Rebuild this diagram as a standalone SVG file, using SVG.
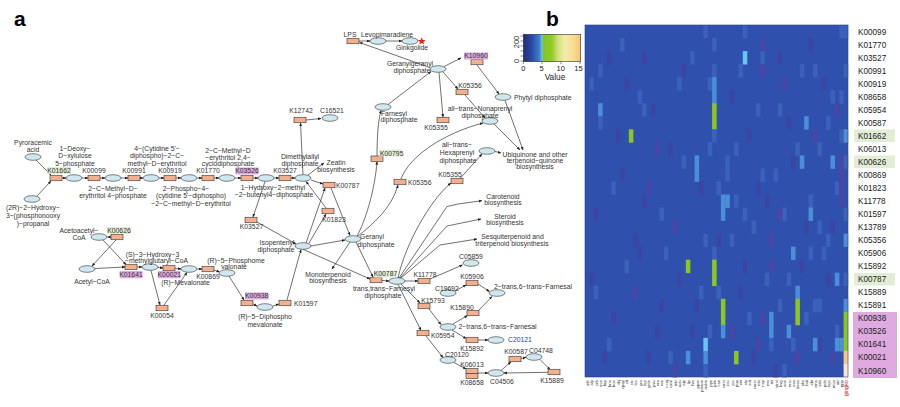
<svg xmlns="http://www.w3.org/2000/svg" width="900" height="407" viewBox="0 0 900 407">
<style>
.e{fill:#cfe7ee;stroke:#333;stroke-width:0.6}
.k{fill:#f3b08e;stroke:#333;stroke-width:0.6}
.t{font-family:"Liberation Sans",Arial,sans-serif;font-size:6.8px;fill:#333}
.m{text-anchor:middle}
.hg{fill:#e3edd5}
.hp{fill:#deaadf}
.ln{fill:none;stroke:#333;stroke-width:0.7;marker-end:url(#ah)}
.rl{font-family:"Liberation Sans",Arial,sans-serif;font-size:8.2px;fill:#222}
.tk{font-family:"Liberation Sans",Arial,sans-serif;font-size:7.5px;fill:#222;text-anchor:middle}
.cl{font-family:"Liberation Sans",Arial,sans-serif;font-size:4.3px;fill:#333;text-anchor:end}
.big{font-family:"Liberation Sans",Arial,sans-serif;font-size:21px;font-weight:bold;fill:#000}
.hm rect{width:1.03px;height:1.03px}
.p{fill:#4a46a4}.d{fill:#3b46a2}.q{fill:#3a62bb}.l{fill:#4a8fd7}.c{fill:#66c6ee}.g{fill:#8bc71c}.o{fill:#f8c77e}.w{fill:#fde6c8}
</style>
<defs>
<marker id="ah" viewBox="0 0 10 10" refX="9" refY="5" markerWidth="5" markerHeight="5" orient="auto"><path d="M0,1 L10,5 L0,9 z" fill="#222"/></marker>
<linearGradient id="cb" x1="0" y1="0" x2="1" y2="0">
<stop offset="0" stop-color="#1f2c78"/><stop offset="0.15" stop-color="#2d4aa8"/><stop offset="0.28" stop-color="#3d80d0"/><stop offset="0.33" stop-color="#66c8ef"/><stop offset="0.35" stop-color="#84c41a"/><stop offset="0.5" stop-color="#92cc26"/><stop offset="0.6" stop-color="#cfe07a"/><stop offset="0.72" stop-color="#f4eaa8"/><stop offset="0.88" stop-color="#f8dc90"/><stop offset="1" stop-color="#f6c276"/>
</linearGradient>
</defs>
<rect width="900" height="407" fill="#fff"/>
<text class="big" x="14" y="26">a</text>
<text class="big" x="546" y="26">b</text>

<g id="connectors">
<path class="ln" d="M37,196 L51,181"/>
<path class="ln" d="M36,160 L51,175"/>
<path class="ln" d="M62,178 L66,178"/>
<path class="ln" d="M82,178 L88,178"/>
<path class="ln" d="M100,178 L105,178"/>
<path class="ln" d="M121,178 L128,178"/>
<path class="ln" d="M140,178 L143,178"/>
<path class="ln" d="M159,178 L164,178"/>
<path class="ln" d="M176,178 L181,178"/>
<path class="ln" d="M197,178 L202,178"/>
<path class="ln" d="M214,178 L219,178"/>
<path class="ln" d="M235,178 L241,178"/>
<path class="ln" d="M253,178 L258,178"/>
<path class="ln" d="M274,178 L279,178"/>
<path class="ln" d="M291,178 L295,178"/>
<path class="ln" d="M111,237 L107.5,237"/>
<path class="ln" d="M103,240 L126,264.5"/>
<path class="ln" d="M116,240 L92,266"/>
<path class="ln" d="M95,268.5 L125,267"/>
<path class="ln" d="M137,267 L142,267"/>
<path class="ln" d="M158,267.5 L163,268"/>
<path class="ln" d="M175,268.5 L181,269"/>
<path class="ln" d="M151,270.5 L160,305"/>
<path class="ln" d="M164,305 L187,272.5"/>
<path class="ln" d="M197,269 L202,269"/>
<path class="ln" d="M214,270 L219.5,272"/>
<path class="ln" d="M229,276 L244,300"/>
<path class="ln" d="M253,304 L257,306"/>
<path class="ln" d="M273,306 L279,304"/>
<path class="ln" d="M287,300 L301,249.5"/>
<path class="ln" d="M265,181.5 L253,217"/>
<path class="ln" d="M257,222 L296,244"/>
<path class="ln" d="M306,243 L325,188"/>
<path class="ln" d="M309,243 L326,214"/>
<path class="ln" d="M326,208 L306,181.5"/>
<path class="ln" d="M311,180 L323,184"/>
<path class="ln" d="M331,188 L350,235.5"/>
<path class="ln" d="M308,175 L324,163"/>
<path class="ln" d="M303,174.7 L300.5,123"/>
<path class="ln" d="M306,120 L321,118.5"/>
<path class="ln" d="M311,246 L345,240"/>
<path class="ln" d="M350,242 L332,269"/>
<path class="ln" d="M356,242 L373,277"/>
<path class="ln" d="M303,249.3 L370,279"/>
<path class="ln" d="M382,280.5 L389,281"/>
<path class="ln" d="M357,236 C365,222 375,190 377,161.5"/>
<path class="ln" d="M377,156 C377,140 378,120 381,110.5"/>
<path class="ln" d="M358,236 C372,225 392,208 398,185"/>
<path class="ln" d="M401,179 C410,155 445,133 483,123"/>
<path class="ln" d="M388,104.5 L431,71.5"/>
<path class="ln" d="M430,67.5 L359.5,42.5"/>
<path class="ln" d="M359,41 L370,41"/>
<path class="ln" d="M386,41 L402,41"/>
<path class="ln" d="M444,66.5 L461,58"/>
<path class="ln" d="M477,65 L499,94"/>
<path class="ln" d="M443,72 L458,89"/>
<path class="ln" d="M465,95 L485,118"/>
<path class="ln" d="M439,72.3 L443,117"/>
<path class="ln" d="M505,100.3 L523,150"/>
<path class="ln" d="M494,124 L520,150"/>
<path class="ln" d="M495,151.5 L501,153"/>
<path class="ln" d="M398,278 C405,245 430,200 451,183"/>
<path class="ln" d="M460,178.5 L482,154"/>
<path class="ln" d="M399,278 L447,206.5 L458,204 L482,200.7"/>
<path class="ln" d="M400,278 L447,226 L481,219"/>
<path class="ln" d="M401,278 L440,245 L477,239"/>
<path class="ln" d="M405,281 L418,281"/>
<path class="ln" d="M430,279 L462.5,265"/>
<path class="ln" d="M455,291 L466,285"/>
<path class="ln" d="M478,284 L489.5,291.5"/>
<path class="ln" d="M453,324 L467.5,315.5"/>
<path class="ln" d="M478,311 L492,296.5"/>
<path class="ln" d="M401,284 L420,303"/>
<path class="ln" d="M429,309 L441,324.5"/>
<path class="ln" d="M452,330 L466,338.5"/>
<path class="ln" d="M478,340 L488,340"/>
<path class="ln" d="M398,284.3 L421,330.5"/>
<path class="ln" d="M426,336 L443,357.5"/>
<path class="ln" d="M454,362.5 L466,369"/>
<path class="ln" d="M478,373 L488,373"/>
<path class="ln" d="M501,370.5 L511,361.8"/>
<path class="ln" d="M521,358.5 L526,357.3"/>
<path class="ln" d="M540,359.5 L550,369.5"/>
<path class="ln" d="M548,372.3 L504,373"/>
</g>

<g id="compounds">
<g id="pyr"><ellipse class="e" cx="33" cy="157" rx="8" ry="3.3"/><text class="t m" x="33" y="145">Pyroracemic</text><text class="t m" x="33" y="152">acid</text></g>
<g id="g3p"><ellipse class="e" cx="32" cy="199" rx="8" ry="3.3"/><text class="t m" x="33" y="209.5">(2R)−2−Hydroxy−</text><text class="t m" x="33" y="217.5">3−(phosphonooxy</text><text class="t m" x="33" y="225.5">)−propanal</text></g>
<g id="dxp"><ellipse class="e" cx="74" cy="178" rx="8" ry="3.3"/><text class="t m" x="75" y="150.5">1−Deoxy−</text><text class="t m" x="75" y="158">D−xylulose</text><text class="t m" x="75" y="165.5">5−phosphate</text></g>
<g id="mep"><ellipse class="e" cx="113" cy="178" rx="8" ry="3.3"/><text class="t m" x="113" y="190.5">2−C−Methyl−D−</text><text class="t m" x="113" y="198">erythritol 4−phosphate</text></g>
<g id="cdpme"><ellipse class="e" cx="151" cy="178" rx="8" ry="3.3"/><text class="t m" x="157" y="150.5">4−(Cytidine 5'−</text><text class="t m" x="157" y="158">diphospho)−2−C−</text><text class="t m" x="157" y="165.5">methyl−D−erythritol</text></g>
<g id="cdpmep"><ellipse class="e" cx="189" cy="178" rx="8" ry="3.3"/><text class="t m" x="186" y="190.5">2−Phospho−4−</text><text class="t m" x="191" y="198">(cytidine 5'−diphospho)</text><text class="t m" x="191" y="205.5">−2−C−methyl−D−erythritol</text></g>
<g id="mecpp"><ellipse class="e" cx="227" cy="178" rx="8" ry="3.3"/><text class="t m" x="228" y="152.5">2−C−Methyl−D</text><text class="t m" x="228" y="159.5">−erythritol 2,4−</text><text class="t m" x="228" y="166">cyclodiphosphate</text></g>
<g id="hmbpp"><ellipse class="e" cx="266" cy="178" rx="8" ry="3.3"/><text class="t m" x="273" y="189.5">1−Hydroxy−2−methyl</text><text class="t m" x="274" y="196.5">−2−butenyl4−diphosphate</text></g>
<g id="dmapp"><ellipse class="e" cx="303" cy="178" rx="8" ry="3.3"/><text class="t m" x="300" y="158.5">Dimethylallyl</text><text class="t m" x="300" y="165.5">diphosphate</text></g>
<g id="ipp"><ellipse class="e" cx="303" cy="246" rx="8" ry="3.3"/><text class="t m" x="277" y="245">Isopentenyl</text><text class="t m" x="276" y="251.5">diphosphate</text></g>
<g id="gpp"><ellipse class="e" cx="353" cy="239" rx="8" ry="3.3"/><text class="t m" x="372" y="239">Geranyl</text><text class="t m" x="376" y="246.5">diphosphate</text></g>
<g id="fpp"><ellipse class="e" cx="383" cy="107" rx="8" ry="3.3"/><text class="t m" x="394" y="115.5">Farnesyl</text><text class="t m" x="399" y="121.5">diphosphate</text></g>
<g id="ggpp"><ellipse class="e" cx="438" cy="69" rx="8" ry="3.3"/><text class="t m" x="410" y="65.5">Geranylgeranyl</text><text class="t m" x="412" y="73">diphosphate</text></g>
<g id="levo"><ellipse class="e" cx="378" cy="41" rx="8" ry="3.3"/><text class="t m" x="387" y="36.5">Levopimaradiene</text></g>
<g id="ginkgolide"><ellipse class="e" cx="410" cy="41" rx="8" ry="3.3"/><text class="t m" x="412" y="50">Ginkgolide</text><path d="M421.7,37.2 L422.8,40 L425.6,40.1 L423.4,41.9 L424.2,44.6 L421.7,43 L419.2,44.6 L420,41.9 L417.8,40.1 L420.6,40 Z" fill="#e8231c"/></g>
<g id="phytyl"><ellipse class="e" cx="503" cy="97" rx="8" ry="3.3"/><text class="t" x="514" y="99.5">Phytyl diphosphate</text></g>
<g id="nona"><ellipse class="e" cx="490" cy="121" rx="8" ry="3.3"/><text class="t m" x="480" y="111">all−trans−Nonaprenyl</text><text class="t m" x="480" y="117.5">diphosphate</text></g>
<g id="hexa"><ellipse class="e" cx="487" cy="151" rx="8" ry="3.3"/><text class="t m" x="457" y="147">all−trans−</text><text class="t m" x="457" y="155">Hexaprenyl</text><text class="t m" x="458" y="162.5">diphosphate</text></g>
<g id="c16521"><ellipse class="e" cx="330" cy="118" rx="8" ry="3.3"/><text class="t m" x="332" y="112.5">C16521</text></g>
<g id="acac"><ellipse class="e" cx="99" cy="237" rx="8" ry="3.3"/><text class="t m" x="79" y="233">Acetoacetyl−</text><text class="t m" x="79" y="239.5">CoA</text></g>
<g id="acetyl"><ellipse class="e" cx="87" cy="269" rx="8" ry="3.3"/><text class="t m" x="92" y="284">Acetyl−CoA</text></g>
<g id="hmgcoa"><ellipse class="e" cx="150" cy="267" rx="8" ry="3.3"/><text class="t m" x="152.5" y="256.5">(S)−3−Hydroxy−3</text><text class="t m" x="156.5" y="262.5">−methylglutaryl−CoA</text></g>
<g id="mva"><ellipse class="e" cx="189" cy="269" rx="8" ry="3.3"/><text class="t m" x="185.5" y="285">(R)−Mevalonate</text></g>
<g id="mvp"><ellipse class="e" cx="227" cy="273" rx="8" ry="3.3"/><text class="t m" x="236" y="263">(R)−5−Phosphome</text><text class="t m" x="234" y="269">valonate</text></g>
<g id="mvpp"><ellipse class="e" cx="265" cy="307" rx="8" ry="3.3"/><text class="t m" x="265" y="319">(R)−5−Diphospho</text><text class="t m" x="265" y="326.5">mevalonate</text></g>
<g id="tfpp"><ellipse class="e" cx="397" cy="281" rx="8" ry="3.3"/><text class="t m" x="384" y="290.5">trans,trans−Farnesyl</text><text class="t m" x="383" y="297.5">diphosphate</text></g>
<g id="c05859"><ellipse class="e" cx="471" cy="263" rx="8" ry="3.3"/><text class="t m" x="471" y="259">C05859</text></g>
<g id="c19692"><ellipse class="e" cx="448" cy="293" rx="8" ry="3.3"/><text class="t m" x="447" y="291">C19692</text></g>
<g id="farnesal1"><ellipse class="e" cx="497" cy="293" rx="8" ry="3.3"/><text class="t" x="494" y="288.5">2−trans,6−trans−Farnesal</text></g>
<g id="farnesal2"><ellipse class="e" cx="448" cy="327" rx="8" ry="3.3"/><text class="t" x="458.5" y="329">2−trans,6−trans−Farnesal</text></g>
<g id="c20121"><ellipse class="e" cx="496" cy="340" rx="8" ry="3.3"/><text class="t" x="508" y="341.5" style="fill:#2a3b9a">C20121</text></g>
<g id="c20120"><ellipse class="e" cx="448" cy="360" rx="8" ry="3.3"/><text class="t m" x="457" y="357">C20120</text></g>
<g id="c04506"><ellipse class="e" cx="496" cy="373" rx="8" ry="3.3"/><text class="t m" x="502" y="384">C04506</text></g>
<g id="c04748"><ellipse class="e" cx="534" cy="357" rx="8" ry="3.3"/><text class="t m" x="541" y="352.5">C04748</text></g>
<g id="zeatin"><text class="t m" x="336" y="164.5">Zeatin</text><text class="t m" x="336" y="172">biosynthesis</text></g>
<g id="monoterpenoid"><text class="t m" x="328" y="276.5">Monoterpenoid</text><text class="t m" x="328" y="282.5">biosynthesis</text></g>
<g id="carotenoid"><text class="t m" x="503" y="199">Carotenoid</text><text class="t m" x="503" y="205">biosynthesis</text></g>
<g id="steroid"><text class="t m" x="505" y="218.5">Steroid</text><text class="t m" x="505" y="224.5">biosynthesis</text></g>
<g id="sesqui"><text class="t m" x="512.5" y="239">Sesquiterpenoid and</text><text class="t m" x="512" y="245.5">triterpenoid biosynthesis</text></g>
<g id="ubiquinone"><text class="t m" x="535" y="156.5">Ubiquinone and other</text><text class="t m" x="535" y="162.5">terpenoid−quinone</text><text class="t m" x="535" y="168.5">biosynthesis</text></g>
</g>

<g id="enzymes">
<g id="K01662"><rect class="k" x="50" y="175.25" width="12" height="5.5"/><rect class="hg" x="47" y="167" width="24" height="7"/><text class="t m" x="59" y="173">K01662</text></g>
<g id="K00099"><rect class="k" x="88" y="175.25" width="12" height="5.5"/><text class="t m" x="94" y="173">K00099</text></g>
<g id="K00991"><rect class="k" x="128" y="175.25" width="12" height="5.5"/><text class="t m" x="134" y="173">K00991</text></g>
<g id="K00919"><rect class="k" x="164" y="175.25" width="12" height="5.5"/><text class="t m" x="170" y="173">K00919</text></g>
<g id="K01770"><rect class="k" x="202" y="175.25" width="12" height="5.5"/><text class="t m" x="208" y="173">K01770</text></g>
<g id="K03526"><rect class="k" x="241" y="175.25" width="12" height="5.5"/><rect class="hp" x="235.5" y="167.5" width="23" height="7"/><text class="t m" x="247" y="173">K03526</text></g>
<g id="K03527a"><rect class="k" x="279" y="175.25" width="12" height="5.5"/><text class="t m" x="285" y="173">K03527</text></g>
<g id="K00787a"><rect class="k" x="323" y="182.25" width="12" height="5.5"/><text class="t" x="336" y="187.5">K00787</text></g>
<g id="K01823"><rect class="k" x="322" y="208.25" width="12" height="5.5"/><text class="t m" x="334" y="221.5">K01823</text></g>
<g id="K03527b"><rect class="k" x="245" y="217.25" width="12" height="5.5"/><text class="t m" x="251.5" y="229">K03527</text></g>
<g id="K12742"><rect class="k" x="294" y="117.25" width="12" height="5.5"/><text class="t m" x="301" y="112.5">K12742</text></g>
<g id="LPS"><rect class="k" x="347" y="38.25" width="12" height="5.5"/><text class="t m" x="350" y="36.5">LPS</text></g>
<g id="K10960"><rect class="k" x="471" y="59.25" width="12" height="5.5"/><rect class="hp" x="464" y="52.5" width="24" height="7"/><text class="t m" x="476" y="58">K10960</text></g>
<g id="K05356a"><rect class="k" x="456" y="89.25" width="12" height="5.5"/><text class="t m" x="470" y="88">K05356</text></g>
<g id="K05355a"><rect class="k" x="437" y="117.25" width="12" height="5.5"/><text class="t m" x="436" y="129.5">K05355</text></g>
<g id="K00795"><rect class="k" x="371" y="156" width="12" height="5.5"/><rect class="hg" x="379" y="149.5" width="23" height="7"/><text class="t" x="380" y="155.5">K00795</text></g>
<g id="K05356b"><rect class="k" x="394" y="179.25" width="12" height="5.5"/><text class="t" x="408" y="184.5">K05356</text></g>
<g id="K05355b"><rect class="k" x="451" y="178.25" width="12" height="5.5"/><text class="t m" x="450" y="177">K05355</text></g>
<g id="K00626"><rect class="k" x="111" y="234.25" width="12" height="5.5"/><rect class="hg" x="107" y="227" width="24" height="7"/><text class="t m" x="119" y="232.5">K00626</text></g>
<g id="K01641"><rect class="k" x="125" y="264.25" width="12" height="5.5"/><rect class="hp" x="120" y="271" width="22.5" height="7.3"/><text class="t m" x="131" y="276.5">K01641</text></g>
<g id="K00021"><rect class="k" x="163" y="265.25" width="12" height="5.5"/><rect class="hp" x="158" y="271" width="22.5" height="7.3"/><text class="t m" x="169.3" y="276.5">K00021</text></g>
<g id="K00054"><rect class="k" x="156" y="305.25" width="12" height="5.5"/><text class="t m" x="162" y="317.5">K00054</text></g>
<g id="K00869"><rect class="k" x="202" y="266.25" width="12" height="5.5"/><text class="t m" x="208" y="278.5">K00869</text></g>
<g id="K00938"><rect class="k" x="241" y="300.25" width="12" height="5.5"/><rect class="hp" x="245" y="292.5" width="23.5" height="7"/><text class="t m" x="256.7" y="298.3">K00938</text></g>
<g id="K01597"><rect class="k" x="279" y="300.25" width="12" height="5.5"/><text class="t" x="294" y="305.5">K01597</text></g>
<g id="K00787b"><rect class="k" x="370" y="277.25" width="12" height="5.5"/><rect class="hg" x="374" y="270.5" width="23" height="7"/><text class="t m" x="385.5" y="276">K00787</text></g>
<g id="K11778"><rect class="k" x="418" y="278.25" width="12" height="5.5"/><text class="t m" x="425" y="276.5">K11778</text></g>
<g id="K05906"><rect class="k" x="466" y="280.25" width="12" height="5.5"/><text class="t m" x="472" y="278.5">K05906</text></g>
<g id="K15890"><rect class="k" x="467" y="310.25" width="12" height="5.5"/><text class="t m" x="462" y="309.5">K15890</text></g>
<g id="K15793"><rect class="k" x="418" y="303.25" width="12" height="5.5"/><text class="t m" x="433" y="303">K15793</text></g>
<g id="K15892"><rect class="k" x="466" y="337.25" width="12" height="5.5"/><text class="t m" x="472" y="350.5">K15892</text></g>
<g id="K05954"><rect class="k" x="417" y="330.25" width="12" height="5.5"/><text class="t" x="431" y="337.5">K05954</text></g>
<g id="K06013"><rect class="k" x="466" y="368.5" width="12" height="5"/><text class="t m" x="472" y="367">K06013</text></g>
<g id="K08658"><rect class="k" x="466" y="373.5" width="12" height="5"/><text class="t m" x="472" y="385">K08658</text></g>
<g id="K00587"><rect class="k" x="509" y="356.25" width="12" height="5.5"/><text class="t m" x="516" y="354">K00587</text></g>
<g id="K15889"><rect class="k" x="548" y="369.25" width="12" height="5.5"/><text class="t m" x="552" y="383">K15889</text></g>
</g>

<g id="colorkey">
<rect x="523.3" y="34.3" width="57.4" height="27.4" fill="url(#cb)" stroke="#333" stroke-width="0.6"/>
<path d="M520.5,36 H523.3 M520.5,41 H523.3 M520.5,46 H523.3 M520.5,51 H523.3 M520.5,56 H523.3 M520.5,61 H523.3" stroke="#333" stroke-width="0.6"/>
<text class="tk" transform="translate(519,42) rotate(-90)">200</text>
<text class="tk" transform="translate(519,61) rotate(-90)">0</text>
<path d="M523.3,61.7 V64 M542,61.7 V64 M561,61.7 V64 M580,61.7 V64" stroke="#333" stroke-width="0.6"/>
<text class="tk" x="523.3" y="70.5">0</text>
<text class="tk" x="541.7" y="70.5">5</text>
<text class="tk" x="560.7" y="70.5">10</text>
<text class="tk" x="578.5" y="70.5">15</text>
<text class="tk" x="555" y="80" style="font-size:8.3px">Value</text>
</g>

<g id="heatmap">
<rect x="585" y="25" width="263" height="352" fill="#3050ae"/>
<g class="hm" transform="translate(585,25) scale(4.3833,13.037)">
<rect class="d" x="5" y="2"/><rect class="d" x="9" y="4"/><rect class="d" x="15" y="6"/><rect class="d" x="19" y="9"/><rect class="d" x="22" y="3"/><rect class="d" x="26" y="12"/><rect class="d" x="33" y="5"/><rect class="d" x="37" y="8"/><rect class="d" x="41" y="13"/><rect class="d" x="44" y="2"/><rect class="d" x="47" y="10"/><rect class="d" x="50" y="15"/><rect class="d" x="54" y="4"/><rect class="d" x="55" y="19"/><rect class="d" x="12" y="17"/><rect class="d" x="17" y="21"/><rect class="d" x="24" y="23"/><rect class="d" x="35" y="20"/><rect class="d" x="38" y="25"/><rect class="d" x="43" y="26"/><rect class="d" x="49" y="18"/><rect class="d" x="53" y="24"/><rect class="d" x="6" y="22"/><rect class="d" x="14" y="25"/><rect class="d" x="21" y="19"/><rect class="d" x="2" y="14"/><rect class="d" x="8" y="11"/><rect class="d" x="11" y="16"/><rect class="d" x="16" y="23"/><rect class="d" x="25" y="21"/><rect class="d" x="30" y="16"/><rect class="d" x="36" y="18"/><rect class="d" x="39" y="12"/><rect class="d" x="46" y="7"/><rect class="d" x="51" y="1"/><rect class="d" x="56" y="15"/><rect class="d" x="1" y="19"/><rect class="d" x="4" y="25"/><rect class="d" x="7" y="8"/><rect class="d" x="13" y="13"/>
<rect class="q" x="1" y="4"/><rect class="q" x="6" y="12"/><rect class="q" x="9" y="18"/><rect class="q" x="13" y="6"/><rect class="q" x="17" y="14"/><rect class="q" x="22" y="10"/><rect class="q" x="24" y="2"/><rect class="q" x="26" y="20"/><rect class="q" x="28" y="9"/><rect class="q" x="33" y="16"/><rect class="q" x="35" y="3"/><rect class="q" x="37" y="22"/><rect class="q" x="39" y="6"/><rect class="q" x="41" y="19"/><rect class="q" x="43" y="11"/><rect class="q" x="45" y="14"/><rect class="q" x="47" y="24"/><rect class="q" x="49" y="3"/><rect class="q" x="50" y="22"/><rect class="q" x="53" y="9"/><rect class="q" x="54" y="17"/><rect class="q" x="56" y="5"/><rect class="q" x="57" y="12"/><rect class="q" x="2" y="20"/><rect class="q" x="5" y="24"/><rect class="q" x="19" y="25"/><rect class="q" x="28" y="23"/><rect class="q" x="28" y="4"/><rect class="q" x="34" y="13"/><rect class="q" x="44" y="21"/>
<rect class="q" x="27" y="0"/><rect class="q" x="36" y="0"/><rect class="q" x="58" y="0"/>
<rect class="q" x="8" y="1"/><rect class="q" x="29" y="1"/><rect class="p" x="40" y="1"/>
<rect class="c" x="36" y="2"/><rect class="q" x="40" y="2"/><rect class="d" x="13" y="2"/>
<rect class="q" x="3" y="3"/><rect class="q" x="29" y="3"/><rect class="p" x="40" y="3"/><rect class="q" x="52" y="3"/>
<rect class="q" x="21" y="4"/><rect class="l" x="29" y="4"/><rect class="p" x="45" y="4"/>
<rect class="l" x="29" y="5"/><rect class="q" x="12" y="5"/><rect class="q" x="58" y="5"/>
<rect class="l" x="3" y="6"/><rect class="g" x="29" y="6"/><rect class="q" x="44" y="6"/><rect class="p" x="57" y="6"/>
<rect class="q" x="3" y="7"/><rect class="g" x="29" y="7"/><rect class="l" x="50" y="7"/><rect class="q" x="55" y="7"/>
<rect class="g" x="10" y="8"/><rect class="q" x="29" y="8"/><rect class="p" x="52" y="8"/><rect class="q" x="58" y="8"/>
<rect class="p" x="16" y="9"/><rect class="q" x="34" y="9"/><rect class="q" x="48" y="9"/>
<rect class="l" x="25" y="10"/><rect class="q" x="32" y="10"/><rect class="l" x="49" y="10"/><rect class="l" x="56" y="10"/><rect class="p" x="58" y="10"/>
<rect class="l" x="25" y="11"/><rect class="q" x="32" y="11"/><rect class="p" x="58" y="11"/><rect class="q" x="40" y="11"/>
<rect class="p" x="14" y="12"/><rect class="q" x="30" y="12"/><rect class="p" x="58" y="12"/>
<rect class="l" x="31" y="13"/><rect class="l" x="32" y="13"/><rect class="q" x="51" y="13"/><rect class="p" x="58" y="13"/>
<rect class="l" x="31" y="14"/><rect class="q" x="36" y="14"/><rect class="l" x="51" y="14"/><rect class="p" x="44" y="14"/>
<rect class="p" x="20" y="15"/><rect class="q" x="38" y="15"/><rect class="q" x="53" y="15"/>
<rect class="q" x="27" y="16"/><rect class="p" x="42" y="16"/><rect class="q" x="55" y="16"/>
<rect class="q" x="18" y="17"/><rect class="q" x="29" y="17"/><rect class="l" x="47" y="17"/><rect class="q" x="51" y="17"/>
<rect class="g" x="23" y="18"/><rect class="g" x="29" y="18"/><rect class="p" x="42" y="18"/>
<rect class="g" x="29" y="19"/><rect class="q" x="46" y="19"/><rect class="l" x="57" y="19"/>
<rect class="q" x="30" y="20"/><rect class="l" x="48" y="20"/><rect class="p" x="11" y="20"/>
<rect class="g" x="48" y="21"/><rect class="q" x="52" y="21"/><rect class="q" x="53" y="21"/><rect class="g" x="31" y="21"/>
<rect class="g" x="31" y="22"/><rect class="g" x="48" y="22"/><rect class="p" x="40" y="22"/><rect class="l" x="42" y="22"/>
<rect class="l" x="31" y="23"/><rect class="l" x="42" y="23"/><rect class="l" x="46" y="23"/><rect class="p" x="33" y="23"/><rect class="q" x="57" y="23"/>
<rect class="c" x="27" y="24"/><rect class="q" x="42" y="24"/><rect class="l" x="52" y="24"/><rect class="l" x="57" y="24"/><rect class="l" x="58" y="24"/><rect class="p" x="39" y="24"/>
<rect class="l" x="23" y="25"/><rect class="l" x="27" y="25"/><rect class="g" x="34" y="25"/><rect class="p" x="56" y="25"/><rect class="p" x="48" y="25"/>
<rect class="q" x="27" y="26"/><rect class="q" x="45" y="26"/><rect class="p" x="20" y="26"/>
<rect class="q" x="59" y="0"/><rect class="q" x="59" y="3"/><rect class="l" x="59" y="8"/><rect class="q" x="59" y="10"/><rect class="q" x="59" y="14"/><rect class="l" x="59" y="16"/><rect class="q" x="59" y="19"/><rect class="l" x="59" y="21"/>
<rect class="g" x="59" y="22"/><rect class="g" x="59" y="23"/><rect class="g" x="59" y="24"/><rect class="o" x="59" y="25"/><rect class="w" x="59" y="26"/>
</g>
<rect x="585" y="25" width="263" height="352" fill="none" stroke="#2a3f96" stroke-width="0.6"/>
</g>

<g id="rowlabels">
<rect class="hg" x="854" y="129.5" width="41" height="12.5"/>
<rect class="hg" x="854" y="155.5" width="41" height="12.5"/>
<rect class="hg" x="854" y="273" width="41" height="12.5"/>
<rect class="hp" x="853" y="312" width="44" height="66"/>
<text class="rl" x="858" y="34.5">K00099</text>
<text class="rl" x="858" y="47.6">K01770</text>
<text class="rl" x="858" y="60.6">K03527</text>
<text class="rl" x="858" y="73.6">K00991</text>
<text class="rl" x="858" y="86.7">K00919</text>
<text class="rl" x="858" y="99.7">K08658</text>
<text class="rl" x="858" y="112.7">K05954</text>
<text class="rl" x="858" y="125.8">K00587</text>
<text class="rl" x="858" y="138.8">K01662</text>
<text class="rl" x="858" y="151.9">K06013</text>
<text class="rl" x="858" y="164.9">K00626</text>
<text class="rl" x="858" y="177.9">K00869</text>
<text class="rl" x="858" y="191">K01823</text>
<text class="rl" x="858" y="204">K11778</text>
<text class="rl" x="858" y="217">K01597</text>
<text class="rl" x="858" y="230.1">K13789</text>
<text class="rl" x="858" y="243.1">K05356</text>
<text class="rl" x="858" y="256.1">K05906</text>
<text class="rl" x="858" y="269.2">K15892</text>
<text class="rl" x="858" y="282.2">K00787</text>
<text class="rl" x="858" y="295.3">K15889</text>
<text class="rl" x="858" y="308.3">K15891</text>
<text class="rl" x="858" y="321.3">K00938</text>
<text class="rl" x="858" y="334.4">K03526</text>
<text class="rl" x="858" y="347.4">K01641</text>
<text class="rl" x="858" y="360.4">K00021</text>
<text class="rl" x="858" y="373.5">K10960</text>
</g>

<g id="collabels">
<text class="cl" transform="translate(588.8,380) rotate(-90)">ath</text>
<text class="cl" transform="translate(593.2,380) rotate(-90)">aly</text>
<text class="cl" transform="translate(597.6,380) rotate(-90)">crb</text>
<text class="cl" transform="translate(602,380) rotate(-90)">eus</text>
<text class="cl" transform="translate(606.3,380) rotate(-90)">brp</text>
<text class="cl" transform="translate(610.7,380) rotate(-90)">bna</text>
<text class="cl" transform="translate(615.1,380) rotate(-90)">boe</text>
<text class="cl" transform="translate(619.5,380) rotate(-90)">thj</text>
<text class="cl" transform="translate(623.9,380) rotate(-90)">cpap</text>
<text class="cl" transform="translate(628.3,380) rotate(-90)">cit</text>
<text class="cl" transform="translate(632.7,380) rotate(-90)">cic</text>
<text class="cl" transform="translate(637.1,380) rotate(-90)">tcc</text>
<text class="cl" transform="translate(641.5,380) rotate(-90)">gra</text>
<text class="cl" transform="translate(645.8,380) rotate(-90)">egr</text>
<text class="cl" transform="translate(650.2,380) rotate(-90)">gmx</text>
<text class="cl" transform="translate(654.6,380) rotate(-90)">pvu</text>
<text class="cl" transform="translate(659,380) rotate(-90)">vra</text>
<text class="cl" transform="translate(663.4,380) rotate(-90)">var</text>
<text class="cl" transform="translate(667.8,380) rotate(-90)">ccaj</text>
<text class="cl" transform="translate(672.2,380) rotate(-90)">cam</text>
<text class="cl" transform="translate(676.6,380) rotate(-90)">mtr</text>
<text class="cl" transform="translate(681,380) rotate(-90)">adu</text>
<text class="cl" transform="translate(685.3,380) rotate(-90)">aip</text>
<text class="cl" transform="translate(689.7,380) rotate(-90)">lja</text>
<text class="cl" transform="translate(694.1,380) rotate(-90)">fve</text>
<text class="cl" transform="translate(698.5,380) rotate(-90)">pper</text>
<text class="cl" transform="translate(702.9,380) rotate(-90)">pmum</text>
<text class="cl" transform="translate(707.3,380) rotate(-90)">mdm</text>
<text class="cl" transform="translate(711.7,380) rotate(-90)">pyx</text>
<text class="cl" transform="translate(716.1,380) rotate(-90)">pxb</text>
<text class="cl" transform="translate(720.4,380) rotate(-90)">csv</text>
<text class="cl" transform="translate(724.8,380) rotate(-90)">cmo</text>
<text class="cl" transform="translate(729.2,380) rotate(-90)">rcu</text>
<text class="cl" transform="translate(733.6,380) rotate(-90)">jcu</text>
<text class="cl" transform="translate(738,380) rotate(-90)">pop</text>
<text class="cl" transform="translate(742.4,380) rotate(-90)">vvi</text>
<text class="cl" transform="translate(746.8,380) rotate(-90)">sly</text>
<text class="cl" transform="translate(751.2,380) rotate(-90)">sot</text>
<text class="cl" transform="translate(755.6,380) rotate(-90)">cann</text>
<text class="cl" transform="translate(759.9,380) rotate(-90)">nta</text>
<text class="cl" transform="translate(764.3,380) rotate(-90)">nsy</text>
<text class="cl" transform="translate(768.7,380) rotate(-90)">nto</text>
<text class="cl" transform="translate(773.1,380) rotate(-90)">ini</text>
<text class="cl" transform="translate(777.5,380) rotate(-90)">sind</text>
<text class="cl" transform="translate(781.9,380) rotate(-90)">bvg</text>
<text class="cl" transform="translate(786.3,380) rotate(-90)">soe</text>
<text class="cl" transform="translate(790.7,380) rotate(-90)">nnu</text>
<text class="cl" transform="translate(795.1,380) rotate(-90)">osa</text>
<text class="cl" transform="translate(799.4,380) rotate(-90)">dosa</text>
<text class="cl" transform="translate(803.8,380) rotate(-90)">obr</text>
<text class="cl" transform="translate(808.2,380) rotate(-90)">bdi</text>
<text class="cl" transform="translate(812.6,380) rotate(-90)">sbi</text>
<text class="cl" transform="translate(817,380) rotate(-90)">zma</text>
<text class="cl" transform="translate(821.4,380) rotate(-90)">sita</text>
<text class="cl" transform="translate(825.8,380) rotate(-90)">pda</text>
<text class="cl" transform="translate(830.2,380) rotate(-90)">egu</text>
<text class="cl" transform="translate(834.5,380) rotate(-90)">mus</text>
<text class="cl" transform="translate(838.9,380) rotate(-90)">atr</text>
<text class="cl" transform="translate(843.3,380) rotate(-90)">ppp</text>
<text class="cl" transform="translate(847.7,380) rotate(-90)" style="fill:#d02020;font-size:5.5px">gingko</text>
</g>
</svg>
